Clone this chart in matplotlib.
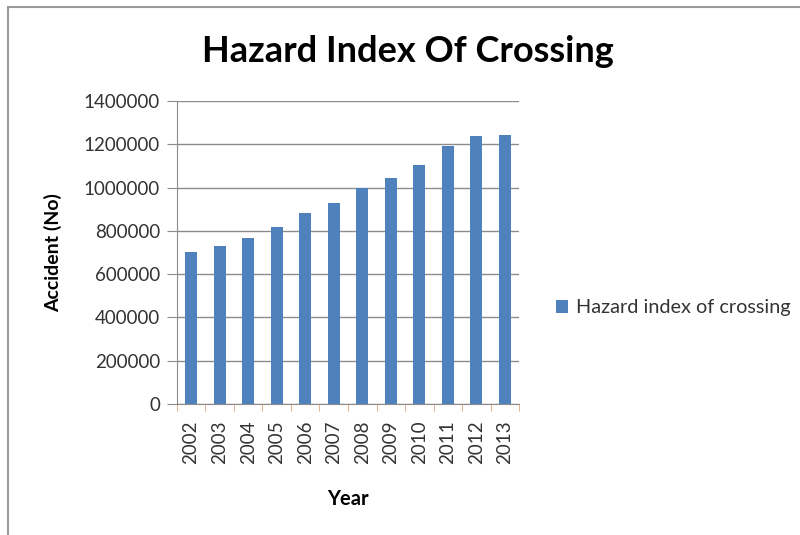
import matplotlib.pyplot as plt
from matplotlib.patches import Rectangle
from matplotlib.ticker import FuncFormatter

# values
years = ["2002", "2003", "2004", "2005", "2006", "2007",
         "2008", "2009", "2010", "2011", "2012", "2013"]
accidents = [703000, 728000, 768000, 816000, 882000, 927000,
             998000, 1044000, 1105000, 1193000, 1238000, 1245000]
series_name = "Hazard index of crossing"

fig = plt.figure(figsize=(8, 5.35), dpi=100)
ax = fig.add_axes([0.221, 0.245, 0.428, 0.566])

x = range(len(years))
ax.bar(x, accidents, width=0.42, color="#4F81BD", label=series_name, zorder=3)

ax.set_xlim(-0.5, len(years) - 0.5)
ax.set_ylim(0, 1400000)
ax.set_yticks(range(0, 1400001, 200000))
ax.yaxis.set_major_formatter(FuncFormatter(lambda v, p: f"{int(v)}"))
ax.set_xticks(list(x))
ax.set_xticklabels(years, rotation=90, fontsize=13.5, family="Lato", color="#333333")
for lab in ax.get_yticklabels():
    lab.set_family("Lato")
    lab.set_fontsize(13.5)
    lab.set_color("#333333")

ax.grid(axis="y", color="#8c8c8c", linewidth=1, zorder=0)
for side in ["top", "right"]:
    ax.spines[side].set_visible(False)
ax.spines["left"].set_color("#8c8c8c")
ax.spines["bottom"].set_color("#8c8c8c")
ax.tick_params(axis="x", length=0, pad=12)
ax.tick_params(axis="y", length=7, color="#8c8c8c", pad=5)
# category boundary ticks like Excel
ax.set_xticks([i - 0.5 for i in range(len(years) + 1)], minor=True)
ax.tick_params(axis="x", which="minor", length=5, color="#e0a080")

ax.set_ylabel("Accident (No)", fontsize=14, fontweight="bold", family="Lato", labelpad=16)
ax.set_xlabel("Year", fontsize=14.5, fontweight="bold", family="Lato", labelpad=18)

fig.text(0.51, 0.903, "Hazard Index Of Crossing", ha="center", va="center",
         fontsize=26, fontweight="bold", family="Lato")

ax.legend(loc="center left", bbox_to_anchor=(1.055, 0.317), frameon=False,
          prop={"family": "Lato", "size": 14.3}, handlelength=0.6, handleheight=0.6,
          handletextpad=0.4, labelcolor="#333333")

# outer chart border
fig.patches.append(Rectangle((8 / 800, -0.1), 1.2, 1.1 - 7 / 535,
                             transform=fig.transFigure, fill=False,
                             edgecolor="#9a9a9a", linewidth=1.5))

plt.savefig("out.png", dpi=100)
